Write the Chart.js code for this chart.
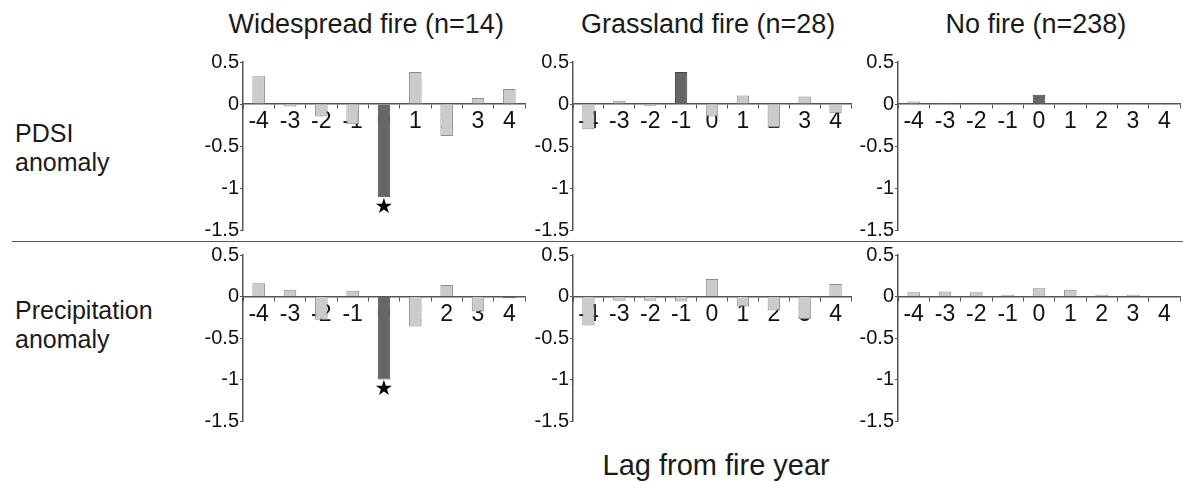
<!DOCTYPE html>
<html><head><meta charset="utf-8">
<script src="https://cdn.jsdelivr.net/npm/chart.js@4"></script>
<style>
body{margin:0;background:#fff;width:1183px;height:482px;position:relative;overflow:hidden;font-family:"Liberation Sans",Arial,sans-serif;color:#1a1a1a}
.t{position:absolute;white-space:nowrap;line-height:1}
canvas{position:absolute}
#sep{position:absolute;left:12px;top:241px;width:1171px;height:0;border-top:1.5px solid #555}
</style></head><body>
<div class="t" id="t1" style="font-size:27px;">Widespread fire (n=14)</div>
<div class="t" id="t2" style="font-size:27px;">Grassland fire (n=28)</div>
<div class="t" id="t3" style="font-size:27px;">No fire (n=238)</div>
<div class="t" style="font-size:25px;left:15px;top:121px;">PDSI</div>
<div class="t" style="font-size:25px;left:15px;top:150px;">anomaly</div>
<div class="t" style="font-size:25px;left:15px;top:298px;">Precipitation</div>
<div class="t" style="font-size:25px;left:15px;top:327px;">anomaly</div>
<div class="t" id="lag" style="font-size:29px;">Lag from fire year</div>
<div id="sep"></div>
<canvas id="c1" width="342" height="203" style="left:188px;top:42px"></canvas>
<canvas id="c2" width="338" height="203" style="left:518px;top:42px"></canvas>
<canvas id="c3" width="340" height="203" style="left:843px;top:42px"></canvas>
<canvas id="c4" width="342" height="201" style="left:188px;top:235px"></canvas>
<canvas id="c5" width="338" height="201" style="left:518px;top:235px"></canvas>
<canvas id="c6" width="340" height="201" style="left:843px;top:235px"></canvas>
<script>
// ---- data ----
const lags = ['-4','-3','-2','-1','0','1','2','3','4'];
const yTicks = [0.5, 0, -0.5, -1, -1.5];
const pdsiWidespread   = [0.33, -0.03, -0.15, -0.24, -1.11, 0.38, -0.38, 0.07, 0.18];
const pdsiGrassland    = [-0.30, 0.04, -0.02, 0.38, -0.15, 0.10, -0.28, 0.09, -0.11];
const pdsiNoFire       = [0.03, 0.01, -0.01, -0.01, 0.11, -0.005, -0.005, -0.01, -0.01];
const precipWidespread = [0.16, 0.08, -0.28, 0.07, -1.00, -0.36, 0.14, -0.18, -0.02];
const precipGrassland  = [-0.35, -0.05, -0.05, -0.06, 0.21, -0.12, -0.17, -0.27, 0.15];
const precipNoFire     = [0.05, 0.06, 0.05, 0.02, 0.10, 0.08, 0.02, 0.02, 0.00];
// indices of dark (significant) bars and starred bars
const pdsiWidespreadDark = [4], pdsiWidespreadStar = [4];
const pdsiGrasslandDark = [3],  pdsiGrasslandStar = [];
const pdsiNoFireDark = [4],     pdsiNoFireStar = [];
const precipWidespreadDark = [4, 8], precipWidespreadStar = [4];
const precipGrasslandDark = [], precipGrasslandStar = [];
const precipNoFireDark = [],    precipNoFireStar = [];

// ---- titles placement ----
function place(id, cx, baseTop){const e=document.getElementById(id);e.style.left=(cx-e.offsetWidth/2)+'px';e.style.top=baseTop+'px';}
place('t1', 366, 11); place('t2', 708, 11); place('t3', 1036, 11); place('lag', 716, 451);

const FONT = '"Liberation Sans", Arial, sans-serif';
const starPlugin = {
  id: 'stars',
  afterDatasetsDraw(chart, args, opts) {
    const ctx = chart.ctx, xs = chart.scales.x, ys = chart.scales.y;
    const vals = chart.data.datasets[0].data;
    ctx.save();
    ctx.fillStyle = '#000';
    ctx.font = '21px "DejaVu Sans"';
    ctx.textAlign = 'center'; ctx.textBaseline = 'middle';
    (opts.idx || []).forEach(i => {
      ctx.fillText('\u2605', xs.getPixelForValue(i), ys.getPixelForValue(vals[i]) + 10);
    });
    ctx.restore();
  }
};

function panel(id, values, dark, stars, padRight) {
  const fill = values.map((v,i) => dark.includes(i) ? '#666666' : '#cbcbcb');
  const border = values.map((v,i) => dark.includes(i) ? '#444444' : '#8c8c8c');
  new Chart(document.getElementById(id), {
    type: 'bar',
    data: { labels: lags, datasets: [{ data: values, backgroundColor: fill, borderColor: border, borderWidth: 1, barPercentage: 0.4, categoryPercentage: 1 }] },
    options: {
      responsive: false, animation: false, devicePixelRatio: 1,
      layout: { padding: { top: 20, bottom: 15, left: 0, right: padRight } },
      plugins: { legend: { display: false }, tooltip: { enabled: false }, stars: { idx: stars } },
      scales: {
        x: {
          position: { y: 0 }, z: 1, offset: true,
          grid: { display: true, drawOnChartArea: false, offset: true, tickLength: 4, color: '#555', tickWidth: 1 },
          border: { display: true, color: '#555', width: 1.5 },
          ticks: { color: '#111', font: { family: FONT, size: 23 }, padding: 0, maxRotation: 0, autoSkip: false }
        },
        y: {
          min: -1.5, max: 0.5,
          afterFit(s) { s.width = 55; },
          afterBuildTicks(s) { s.ticks = yTicks.map(v => ({ value: v })); },
          grid: { display: true, drawOnChartArea: false, tickLength: 3, color: '#555' },
          border: { display: true, color: '#555', width: 1.5 },
          ticks: { color: '#111', font: { family: FONT, size: 20 }, padding: 1, callback: v => String(v) }
        }
      }
    },
    plugins: [starPlugin]
  });
}
panel('c1', pdsiWidespread, pdsiWidespreadDark, pdsiWidespreadStar, 5);
panel('c2', pdsiGrassland, pdsiGrasslandDark, pdsiGrasslandStar, 5);
panel('c3', pdsiNoFire, pdsiNoFireDark, pdsiNoFireStar, 3);
panel('c4', precipWidespread, precipWidespreadDark, precipWidespreadStar, 5);
panel('c5', precipGrassland, precipGrasslandDark, precipGrasslandStar, 5);
panel('c6', precipNoFire, precipNoFireDark, precipNoFireStar, 3);
</script>
</body></html>
